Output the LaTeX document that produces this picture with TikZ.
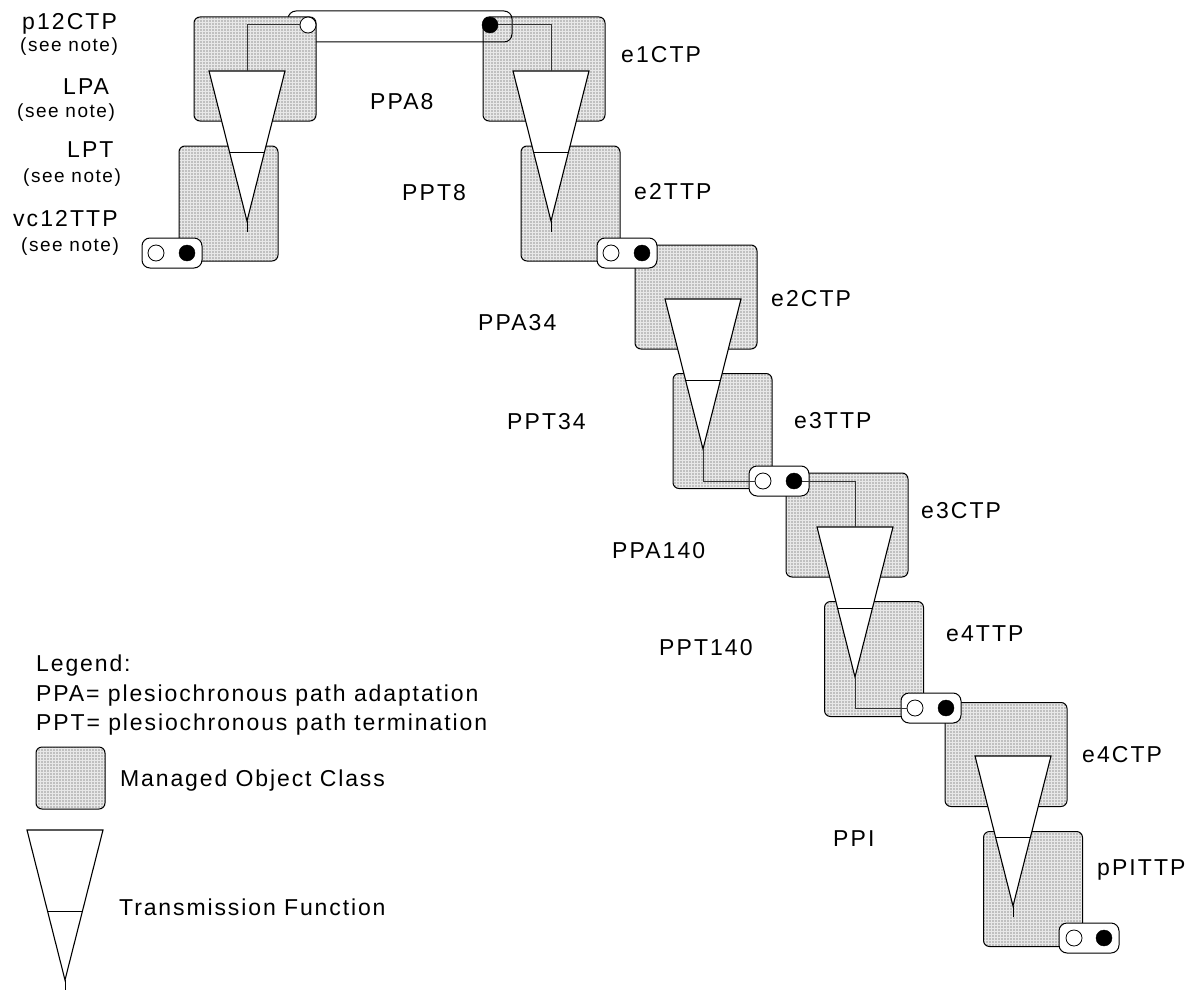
\documentclass[tikz,border=0pt]{standalone}
\usepackage{fontspec}
\setmainfont{Liberation Sans}[LetterSpace=9]
\newfontfamily\notefont{Liberation Sans}[LetterSpace=8]
\newfontfamily\legfont{Liberation Sans}[LetterSpace=8.2]
\definecolor{moGrey}{HTML}{E8E8E8}
\usetikzlibrary{patterns.meta}

\tikzset{
  mobox/.style={draw, line width=1pt, rounded corners=6pt, inner sep=0pt,
    preaction={fill=moGrey},
    pattern={Dots[distance=3pt,radius=.8pt]}, pattern color=black!40},
  moa/.style={mobox, minimum width=122pt, minimum height=104pt},
  mot/.style={mobox, minimum width=99pt, minimum height=115pt},
  pill/.style={draw, fill=white, line width=1pt, rounded corners=8pt, inner sep=0pt,
    minimum width=60pt, minimum height=30pt},
  portw/.style={circle, draw, fill=white, line width=.8pt, inner sep=0pt, minimum size=16pt},
  portb/.style={circle, draw, fill=black, inner sep=0pt, minimum size=16pt},
  wire/.style={line width=1pt, black!80},
  lab/.style={anchor=base west, inner sep=0pt, font=\fontsize{23}{27}\selectfont},
  leg/.style={anchor=base west, inner sep=0pt, font=\legfont\fontsize{23}{27}\selectfont},
  note/.style={anchor=base west, inner sep=0pt, font=\notefont\fontsize{19}{23}\selectfont},
  tfun/.pic={
    \draw[fill=white, line width=1.1pt] (-38,0) -- (38,0) -- (0,150) -- cycle;
    \draw[line width=1pt] (0,150) -- (0,161);
    \draw[line width=1pt] (-18,81) -- (18,81);
    \coordinate (-top) at (0,0);
    \coordinate (-tip) at (0,150);
  }
}

\begin{document}
\begin{tikzpicture}[x=1pt, y=-1pt]
  \useasboundingbox (0,0) rectangle (1186,990);
  % managed object boxes
  \node[moa] (e1ctp) at (544,69) {};
  \node[draw, line width=1pt, rounded corners=8pt, minimum width=224pt, minimum height=31pt, inner sep=0pt] (ppalink) at (400,26.5) {};
  \node[moa] (p12ctp) at (255,69) {};
  \node[mot] (lpt) at (228.5,203.5) {};
  \node[mot] (e2ttp) at (570.5,203.5) {};
  \node[moa] (e2ctp) at (696,297) {};
  \node[mot] (e3ttp) at (722.5,431) {};
  \node[moa] (e3ctp) at (847,525) {};
  \node[mot] (e4ttp) at (874,659) {};
  \node[moa] (e4ctp) at (1006,754.5) {};
  \node[mot] (ppittp) at (1033,889) {};
  % transmission functions
  \pic (tflp) at (247,71) {tfun};
  \pic (tfp8) at (551,71) {tfun};
  \pic (tfp34) at (703,299) {tfun};
  \pic (tfp140) at (855,527) {tfun};
  \pic (tfppi) at (1013,756) {tfun};
  % connection points
  \node[pill] (vcpill) at (172,253) {};
  \node[pill] (e2pill) at (627,253) {};
  \node[pill] (e3pill) at (779,481) {};
  \node[pill] (e4pill) at (931,708) {};
  \node[pill] (ppipill) at (1089,938) {};
  \node[portw] (p12w) at (308,25) {};
  \node[portb] (e1b) at (490,25) {};
  \node[portw] (vcw) at (156,253) {};
  \node[portb] (vcb) at (187,253) {};
  \node[portw] (e2w) at (611,253) {};
  \node[portb] (e2b) at (642,253) {};
  \node[portw] (e3w) at (763,481) {};
  \node[portb] (e3b) at (794,481) {};
  \node[portw] (e4w) at (915,708) {};
  \node[portb] (e4b) at (946,708) {};
  \node[portw] (ppiw) at (1074,938) {};
  \node[portb] (ppib) at (1104,938) {};
  % wires
  \draw[wire] (p12w.west) -| (tflp-top);
  \draw[wire] (e1b.east) -| (tfp8-top);
  \draw[wire] (tfp34-tip) |- (e3w.west);
  \draw[wire] (e3b.east) -| (tfp140-top);
  \draw[wire] (tfp140-tip) |- (e4w.west);
  % labels
  \node[lab] (l1) at (22,30) {p12CTP};
  \node[note] (n1) at (20,52) {(see note)};
  \node[lab] (l2) at (63,94) {LPA};
  \node[note] (n2) at (17,117) {(see note)};
  \node[lab] (l3) at (67,157) {LPT};
  \node[note] (n3) at (23,182) {(see note)};
  \node[lab] (l4) at (13,226) {vc12TTP};
  \node[note] (n4) at (21,251) {(see note)};
  \node[lab] (l5) at (370,109) {PPA8};
  \node[lab] (l6) at (402,200) {PPT8};
  \node[lab] (l7) at (621,63) {e1CTP};
  \node[lab] (l8) at (634,199) {e2TTP};
  \node[lab] (l9) at (771,306) {e2CTP};
  \node[lab] (l10) at (478,330) {PPA34};
  \node[lab] (l11) at (507,429) {PPT34};
  \node[lab] (l12) at (794,428) {e3TTP};
  \node[lab] (l13) at (921,518) {e3CTP};
  \node[lab] (l14) at (612,558) {PPA140};
  \node[lab] (l15) at (659,655) {PPT140};
  \node[lab] (l16) at (946,641) {e4TTP};
  \node[lab] (l17) at (1082,762) {e4CTP};
  \node[lab] (l18) at (833,846) {PPI};
  \node[lab] (l19) at (1097,875) {pPITTP};
  % legend
  \node[leg] (leg0) at (36,671) {Legend:};
  \node[leg] (leg1) at (36,701) {PPA= plesiochronous path adaptation};
  \node[leg] (leg2) at (36,730) {PPT= plesiochronous path termination};
  \node[mobox, minimum width=69pt, minimum height=62pt] (legbox) at (70.5,778) {};
  \node[leg] (leg3) at (120,786) {Managed Object Class};
  \pic (legtf) at (65,830) {tfun};
  \node[leg] (leg4) at (119,915) {Transmission Function};
\end{tikzpicture}
\end{document}
